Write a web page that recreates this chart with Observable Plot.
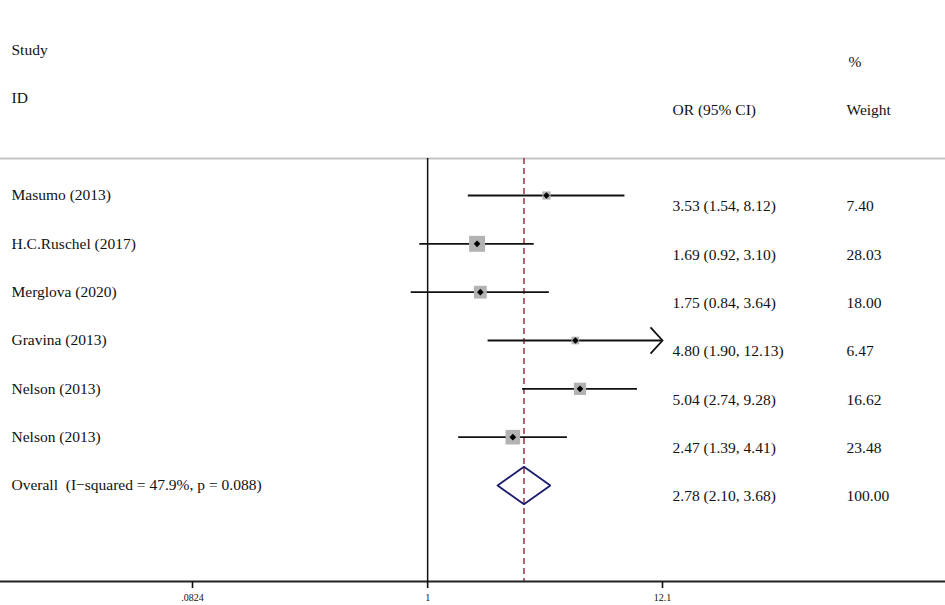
<!DOCTYPE html>
<html><head><meta charset="utf-8">
<script src="https://cdn.jsdelivr.net/npm/d3@7"></script>
<script src="https://cdn.jsdelivr.net/npm/@observablehq/plot@0.6"></script>
<style>
html,body{margin:0;padding:0;background:#fff;}
#chart svg{display:block;background:linear-gradient(to bottom,#ffffff 581px,#eef6f8 581px);}
</style></head><body><div id="chart"></div>
<script>
// ---- data ----
const studies = ["Masumo (2013)", "H.C.Ruschel (2017)", "Merglova (2020)", "Gravina (2013)", "Nelson (2013)", "Nelson (2013)"];
const orValues = [3.53, 1.69, 1.75, 4.80, 5.04, 2.47];
const ciLower = [1.54, 0.92, 0.84, 1.90, 2.74, 1.39];
const ciUpper = [8.12, 3.10, 3.64, 12.13, 9.28, 4.41];
const weights = [7.40, 28.03, 18.00, 6.47, 16.62, 23.48];
const overallLabel = "Overall  (I\u2212squared = 47.9%, p = 0.088)";
const overallOR = 2.78, overallLower = 2.10, overallUpper = 3.68, overallWeight = 100.00;
const xTicks = [0.0824, 1, 12.1];
const xTickLabels = [".0824", "1", "12.1"];

// ---- derived tables ----
const fmt = v => v.toFixed(2);
const xMin = xTicks[0], xMax = xTicks[xTicks.length - 1];
const rows = studies.map((s, i) => ({
  row: i, label: s, or: orValues[i], lo: ciLower[i], hi: ciUpper[i], w: weights[i],
  ci: `${fmt(orValues[i])} (${fmt(ciLower[i])}, ${fmt(ciUpper[i])})`, wt: fmt(weights[i])
}));
const oRow = studies.length;
const overallRow = {row: oRow, label: overallLabel, or: overallOR, lo: overallLower, hi: overallUpper,
  ci: `${fmt(overallOR)} (${fmt(overallLower)}, ${fmt(overallUpper)})`, wt: fmt(overallWeight)};
const allRows = [...rows, overallRow];
const ticks = xTicks.map((t, i) => ({x: t, label: xTickLabels[i]}));
const dh = 0.39; // diamond half-height in row units
const diamond = [
  {x: overallLower, y: oRow}, {x: overallOR, y: oRow - dh}, {x: overallUpper, y: oRow},
  {x: overallOR, y: oRow + dh}, {x: overallLower, y: oRow}
];
const chevron = {draw(ctx, size){ const s = Math.sqrt(size / Math.PI); ctx.moveTo(-s, -s * 1.1); ctx.lineTo(0, 0); ctx.lineTo(-s, s * 1.1); }};

const font = "Liberation Serif";
const ink = "#111";
const fs = 15.5;

const chart = Plot.plot({
  width: 945, height: 605,
  marginLeft: 0, marginRight: 0, marginTop: 0, marginBottom: 24,
  style: {fontFamily: font, color: ink, background: "transparent"},
  x: {type: "log", domain: [xMin, xMax], range: [192, 662], axis: null},
  y: {type: "linear", domain: [0, oRow], range: [195, 485], axis: null},
  r: {type: "sqrt", domain: [0, d3.max(weights)], range: [0, 9]},
  marks: [
    Plot.ruleY([0], {dy: -37, stroke: "#c4c4c4", strokeWidth: 2}),
    Plot.ruleX([1], {stroke: ink, strokeWidth: 1.5, insetTop: 158}),
    Plot.ruleX([overallOR], {stroke: "#9a3040", strokeWidth: 1.5, strokeDasharray: "6,4", insetTop: 158}),
    Plot.frame({anchor: "bottom", stroke: "#222", strokeWidth: 2}),
    // x axis ticks + labels
    Plot.axisX({ticks: xTicks, tickSize: 7, tickFormat: () => "", stroke: ink, strokeWidth: 1.6}),
    Plot.text(ticks, {x: "x", text: "label", frameAnchor: "bottom", dy: 16, lineAnchor: "middle", textAnchor: "middle", fontSize: 10, fill: ink}),
    // CIs
    Plot.ruleY(rows, {y: "row", x1: "lo", x2: d => Math.min(d.hi, xMax), stroke: ink, strokeWidth: 1.8}),
    Plot.dot(rows.filter(d => d.hi > xMax), {x: () => xMax, y: "row", r: 12, symbol: chevron, fill: "none", stroke: ink, strokeWidth: 1.8}),
    // weight squares
    Plot.dot(rows, {x: "or", y: "row", r: "w", symbol: "square", fill: "#b3b3b3", stroke: "none"}),
    Plot.dot(rows, {x: "or", y: "row", r: 3, symbol: "diamond2", fill: "#000", stroke: "none"}),
    // overall diamond
    Plot.line(diamond, {x: "x", y: "y", stroke: "#1c1c6c", strokeWidth: 1.8, strokeLinejoin: "miter"}),
    // headers
    Plot.text(["Study"], {frameAnchor: "top-left", dx: 11, dy: 50, lineAnchor: "middle", textAnchor: "start", fontSize: fs, fill: ink}),
    Plot.text(["ID"], {frameAnchor: "top-left", dx: 11, dy: 98, lineAnchor: "middle", textAnchor: "start", fontSize: fs, fill: ink}),
    Plot.text(["OR (95% CI)"], {frameAnchor: "top-left", dx: 672, dy: 110, lineAnchor: "middle", textAnchor: "start", fontSize: fs, fill: ink}),
    Plot.text(["%"], {frameAnchor: "top-left", dx: 848, dy: 62, lineAnchor: "middle", textAnchor: "start", fontSize: fs, fill: ink}),
    Plot.text(["Weight"], {frameAnchor: "top-left", dx: 846, dy: 110, lineAnchor: "middle", textAnchor: "start", fontSize: fs, fill: ink}),
    // row texts
    Plot.text(allRows, {y: "row", text: "label", frameAnchor: "left", dx: 11, textAnchor: "start", lineAnchor: "middle", fontSize: fs, fill: ink}),
    Plot.text(allRows, {y: "row", text: "ci", frameAnchor: "left", dx: 672, dy: 11, textAnchor: "start", lineAnchor: "middle", fontSize: fs, fill: ink}),
    Plot.text(allRows, {y: "row", text: "wt", frameAnchor: "left", dx: 846, dy: 11, textAnchor: "start", lineAnchor: "middle", fontSize: fs, fill: ink})
  ]
});
document.getElementById("chart").appendChild(chart);
</script></body></html>
